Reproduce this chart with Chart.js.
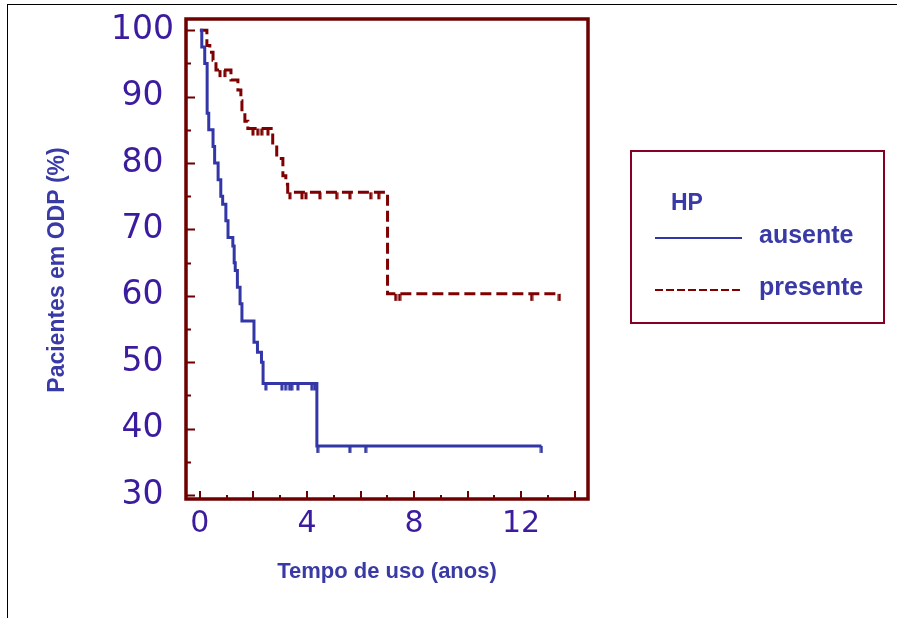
<!DOCTYPE html>
<html>
<head>
<meta charset="utf-8">
<script src="https://cdn.jsdelivr.net/npm/chart.js@4.4.1/dist/chart.umd.min.js"></script>
<style>
  html, body { margin: 0; padding: 0; background: #fff; overflow: hidden; }
  #wrap { position: relative; width: 897px; height: 618px; }
  #frame { position: absolute; left: 7px; top: 4px; width: 1000px; height: 1000px; border: 1px solid #000; }
  canvas { position: absolute; left: 0; top: 0; }
</style>
</head>
<body>
<div id="wrap">
  <div id="frame"></div>
  <canvas id="kmChart" width="897" height="618"></canvas>
</div>
<script>
// Curvas de Kaplan-Meier (tempo em anos, % de pacientes em ODP)
const ausenteTempo = [0, 0.07, 0.18, 0.27, 0.33, 0.49, 0.55, 0.68, 0.78, 0.85, 0.97, 1.05, 1.23, 1.28, 1.32, 1.40, 1.50, 1.57, 2.02, 2.15, 2.30, 2.36, 4.37, 12.76];
const ausenteValor = [100, 97.5, 95.0, 87.5, 85.0, 82.5, 80.0, 77.5, 75.0, 73.8, 71.3, 68.8, 67.5, 65.0, 63.8, 61.3, 58.8, 56.2, 53.0, 51.5, 50.0, 46.8, 37.4, 37.4];

const presenteTempo = [0, 0.26, 0.37, 0.49, 0.60, 1.16, 1.42, 1.53, 1.57, 1.68, 1.79, 2.72, 2.87, 3.10, 3.21, 3.28, 7.01, 13.47];
const presenteValor = [100, 97.7, 96.7, 95.5, 94.0, 92.5, 91.0, 89.4, 87.5, 86.3, 85.2, 82.7, 80.7, 78.1, 76.8, 75.6, 60.3, 60.3];

// observações censuradas
const ausenteCensTempo = [2.46, 3.06, 3.20, 3.35, 3.43, 3.66, 4.18, 4.29, 4.40, 5.60, 6.19, 12.76];
const ausenteCensValor = [46.8, 46.8, 46.8, 46.8, 46.8, 46.8, 46.8, 46.8, 37.4, 37.4, 37.4, 37.4];
const presenteCensTempo = [0.75, 0.93, 1.98, 2.16, 2.31, 2.54, 3.36, 3.81, 3.96, 4.48, 5.11, 5.60, 6.38, 6.68, 7.31, 7.46, 12.39, 13.43];
const presenteCensValor = [94.0, 94.0, 85.2, 85.2, 85.2, 85.2, 75.6, 75.6, 75.6, 75.6, 75.6, 75.6, 75.6, 75.6, 60.3, 60.3, 60.3, 60.3];

const grupos = ['ausente', 'presente'];
const legendaTitulo = 'HP';
const tituloY = 'Pacientes em ODP (%)';
const tituloX = 'Tempo de uso (anos)';
const xTicks = [0, 4, 8, 12];
const yTicks = [30, 40, 50, 60, 70, 80, 90, 100];
const xMarcas = [0, 1, 2, 3, 4, 5, 6, 7, 8, 9, 10, 11, 12, 13, 14];
const yMarcas = [30, 35, 40, 45, 50, 55, 60, 65, 70, 75, 80, 85, 90, 95, 100];

const azul = '#3236a6';
const vermelho = '#7e0000';
const eixoCor = '#6e0000';
const textoCor = '#3a3aa6';
const tickCor = '#3c1c9e';

function pontos(xs, ys) {
    return xs.map((t, i) => ({ x: t, y: ys[i] }));
}

// pequena marca vertical pendurada abaixo da linha (censura)
function marcaCensura(cor) {
    const c = document.createElement('canvas');
    c.width = 4; c.height = 16;
    const g = c.getContext('2d');
    g.strokeStyle = cor;
    g.lineWidth = 3;
    g.beginPath();
    g.moveTo(2, 8);
    g.lineTo(2, 15);
    g.stroke();
    return c;
}

const caixaPlugin = {
    id: 'caixaPlugin',
    afterDraw(chart) {
        const { ctx, chartArea: a, scales: { x, y } } = chart;
        ctx.save();
        ctx.strokeStyle = eixoCor;
        ctx.lineWidth = 2;
        ctx.beginPath();
        yMarcas.forEach(v => {
            const py = Math.round(y.getPixelForValue(v)) + 0.5;
            const len = v % 10 === 0 ? 9 : 5;
            ctx.moveTo(a.left, py); ctx.lineTo(a.left + len, py);
        });
        xMarcas.forEach(v => {
            const px = Math.round(x.getPixelForValue(v));
            const len = v % 2 === 0 ? 8 : 4;
            ctx.moveTo(px, a.bottom); ctx.lineTo(px, a.bottom - len);
        });
        ctx.stroke();
        ctx.lineWidth = 3.5;
        ctx.strokeRect(a.left, a.top, a.right - a.left, a.bottom - a.top);

        // título do eixo y (um pouco abaixo do centro, como no original)
        ctx.save();
        ctx.translate(58, 270);
        ctx.rotate(-Math.PI / 2);
        ctx.fillStyle = textoCor;
        ctx.font = 'bold 23px "Liberation Sans", Arial, sans-serif';
        ctx.textAlign = 'center';
        ctx.textBaseline = 'middle';
        ctx.fillText(tituloY, 0, 0);
        ctx.restore();

        // legenda
        ctx.strokeStyle = '#860024';
        ctx.lineWidth = 2;
        ctx.strokeRect(631, 151, 253, 172);
        ctx.fillStyle = textoCor;
        ctx.font = 'bold 23px "Liberation Sans", Arial, sans-serif';
        ctx.textBaseline = 'alphabetic';
        ctx.fillText(legendaTitulo, 671, 210);
        const linhas = [chart.data.datasets[0], chart.data.datasets[1]];
        const ys = [238, 290];
        linhas.forEach((ds, i) => {
            ctx.strokeStyle = ds.borderColor;
            ctx.lineWidth = 2;
            ctx.setLineDash(ds.borderDash ? [8, 3] : []);
            ctx.beginPath();
            ctx.moveTo(655, ys[i]); ctx.lineTo(742, ys[i]);
            ctx.stroke();
            ctx.setLineDash([]);
            ctx.font = 'bold 25px "Liberation Sans", Arial, sans-serif';
            ctx.fillText(ds.label, 759, ys[i] + 5);
        });
        ctx.restore();
    }
};

const ctx = document.getElementById('kmChart').getContext('2d');

new Chart(ctx, {
    type: 'line',
    data: {
        datasets: [
            {
                label: grupos[0],
                data: pontos(ausenteTempo, ausenteValor),
                borderColor: azul,
                borderWidth: 3,
                stepped: 'before',
                pointRadius: 0,
                fill: false
            },
            {
                label: grupos[1],
                data: pontos(presenteTempo, presenteValor),
                borderColor: vermelho,
                borderWidth: 3,
                borderDash: [11, 5],
                stepped: 'before',
                pointRadius: 0,
                fill: false
            },
            {
                label: grupos[0] + ' censurado',
                data: pontos(ausenteCensTempo, ausenteCensValor),
                showLine: false,
                pointStyle: marcaCensura(azul),
                pointRadius: 8
            },
            {
                label: grupos[1] + ' censurado',
                data: pontos(presenteCensTempo, presenteCensValor),
                showLine: false,
                pointStyle: marcaCensura(vermelho),
                pointRadius: 8
            }
        ]
    },
    options: {
        responsive: false,
        animation: false,
        layout: { padding: { top: 19, right: 309, bottom: 0, left: 0 } },
        plugins: {
            legend: { display: false },
            tooltip: { enabled: false }
        },
        scales: {
            x: {
                type: 'linear',
                min: -0.52,
                max: 14.5,
                afterBuildTicks: (scale) => { scale.ticks = xTicks.map(v => ({ value: v })); },
                afterFit: (scale) => {
                    scale.height = 119;
                    scale.paddingLeft = 0;
                    scale.paddingRight = 0;
                },
                ticks: {
                    font: { family: '"DejaVu Sans", Verdana, sans-serif', size: 30 },
                    color: tickCor,
                    padding: 7,
                    maxRotation: 0
                },
                grid: { display: false, drawTicks: false },
                border: { display: false },
                title: {
                    display: true,
                    text: tituloX,
                    color: textoCor,
                    font: { family: '"Liberation Sans", Arial, sans-serif', size: 22, weight: 'bold' },
                    padding: { top: 4, bottom: 33 }
                }
            },
            y: {
                type: 'linear',
                min: 29.4,
                max: 101.7,
                afterBuildTicks: (scale) => { scale.ticks = yTicks.map(v => ({ value: v })); },
                afterFit: (scale) => {
                    scale.width = 186;
                    scale.paddingTop = 0;
                    scale.paddingBottom = 0;
                },
                ticks: {
                    font: { family: '"DejaVu Sans", Verdana, sans-serif', size: 33 },
                    color: tickCor,
                    padding: 12,
                    crossAlign: 'center'
                },
                grid: { display: false, drawTicks: false },
                border: { display: false },
                title: { display: false }
            }
        }
    },
    plugins: [caixaPlugin]
});
</script>
</body>
</html>
